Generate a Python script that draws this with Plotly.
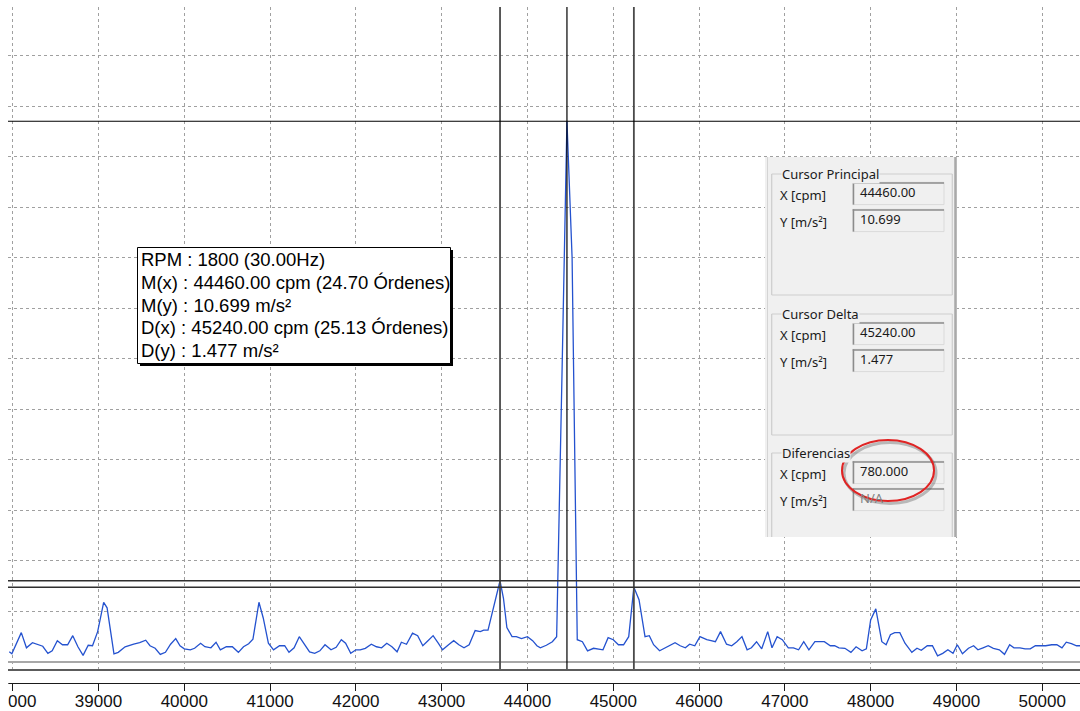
import plotly.graph_objects as go

# Spectrum (cpm vs acceleration amplitude in m/s²)
freq_cpm = [37960, 37990, 38100, 38160, 38230, 38320, 38350, 38410, 38460, 38520,
            38580, 38640, 38700, 38760, 38820, 38880, 38930, 38990, 39060, 39100,
            39180, 39230, 39310, 39410, 39480, 39550, 39600, 39660, 39720, 39780,
            39840, 39900, 39950, 40000, 40070, 40120, 40190, 40240, 40310, 40370,
            40420, 40490, 40560, 40630, 40690, 40750, 40800, 40870, 40920, 40980,
            41040, 41110, 41170, 41220, 41280, 41340, 41400, 41460, 41520, 41580,
            41640, 41710, 41770, 41830, 41880, 41940, 42000, 42050, 42110, 42180,
            42240, 42300, 42360, 42420, 42480, 42530, 42590, 42660, 42720, 42780,
            42840, 42900, 42960, 43010, 43080, 43140, 43200, 43260, 43320, 43390,
            43450, 43490, 43540, 43600, 43680, 43720, 43760, 43820, 43870, 43930,
            44000, 44060, 44110, 44150, 44220, 44290, 44340, 44400, 44460, 44520,
            44580, 44640, 44700, 44770, 44810, 44880, 44940, 45000, 45060, 45120,
            45180, 45240, 45300, 45350, 45370, 45420, 45470, 45540, 45600, 45660,
            45720, 45780, 45840, 45890, 45950, 46010, 46090, 46140, 46190, 46250,
            46320, 46380, 46440, 46500, 46560, 46610, 46670, 46730, 46800, 46850,
            46910, 46970, 47040, 47100, 47160, 47220, 47280, 47350, 47460, 47530,
            47580, 47630, 47700, 47770, 47830, 47900, 47950, 48000, 48060, 48130,
            48180, 48230, 48280, 48340, 48400, 48480, 48540, 48590, 48660, 48720,
            48780, 48840, 48900, 48960, 49010, 49070, 49140, 49200, 49250, 49310,
            49370, 49430, 49500, 49560, 49620, 49670, 49740, 49800, 49860, 49920,
            49970, 50040, 50110, 50170, 50230, 50280, 50340, 50400, 50460]
amp_ms2 = [0.20, 0.16, 0.58, 0.28, 0.38, 0.32, 0.31, 0.17, 0.22, 0.42,
           0.34, 0.34, 0.52, 0.30, 0.13, 0.33, 0.32, 0.60, 1.18, 1.07,
           0.16, 0.19, 0.30, 0.35, 0.38, 0.43, 0.32, 0.27, 0.15, 0.19,
           0.35, 0.46, 0.32, 0.26, 0.24, 0.27, 0.37, 0.30, 0.28, 0.39,
           0.24, 0.30, 0.30, 0.19, 0.30, 0.36, 0.45, 1.18, 0.87, 0.37,
           0.24, 0.32, 0.32, 0.19, 0.28, 0.50, 0.35, 0.20, 0.17, 0.22,
           0.34, 0.24, 0.29, 0.44, 0.37, 0.17, 0.24, 0.24, 0.27, 0.35,
           0.30, 0.28, 0.37, 0.30, 0.20, 0.39, 0.35, 0.57, 0.52, 0.32,
           0.42, 0.52, 0.37, 0.24, 0.34, 0.42, 0.34, 0.28, 0.34, 0.62,
           0.60, 0.63, 0.63, 1.07, 1.606, 1.26, 0.68, 0.50, 0.50, 0.46,
           0.50, 0.42, 0.32, 0.28, 0.33, 0.40, 0.50, 5.5, 10.699, 8.0,
           0.44, 0.40, 0.22, 0.27, 0.26, 0.24, 0.48, 0.44, 0.34, 0.34,
           0.50, 1.477, 1.23, 0.73, 0.50, 0.52, 0.34, 0.22, 0.27, 0.32,
           0.38, 0.32, 0.28, 0.35, 0.32, 0.50, 0.44, 0.42, 0.40, 0.60,
           0.35, 0.32, 0.40, 0.50, 0.24, 0.28, 0.40, 0.26, 0.60, 0.28,
           0.50, 0.44, 0.28, 0.28, 0.24, 0.40, 0.24, 0.40, 0.40, 0.32,
           0.32, 0.28, 0.27, 0.19, 0.30, 0.22, 0.26, 0.83, 1.05, 0.40,
           0.34, 0.54, 0.58, 0.58, 0.37, 0.19, 0.27, 0.23, 0.32, 0.32,
           0.12, 0.17, 0.24, 0.17, 0.34, 0.16, 0.27, 0.32, 0.24, 0.28,
           0.32, 0.27, 0.24, 0.15, 0.34, 0.28, 0.28, 0.26, 0.26, 0.32,
           0.32, 0.32, 0.34, 0.34, 0.28, 0.39, 0.36, 0.32, 0.32]

# Cursor readings
rpm = 1800
main_cursor_cpm = 44460
main_cursor_amp = 10.699
delta_cursor_cpm = 45240
delta_cursor_amp = 1.477
mirror_cursor_cpm = 43680
mirror_cursor_amp = 1.606

tick_values = [38000, 39000, 40000, 41000, 42000, 43000, 44000,
               45000, 46000, 47000, 48000, 49000, 50000]
tick_labels = [str(v) for v in tick_values]

X_RANGE = [37945, 50440]
Y_RANGE = [-0.14, 12.96]

W, H = 1080, 711
ML, MR, MT, MB = 8, 0, 7, 28
PLOT_BOTTOM = 669


def px(x):
    return (x - ML) / (W - ML - MR)


def py(y):
    return (H - MB - y) / (H - MT - MB)


fig = go.Figure()
fig.add_trace(go.Scatter(
    x=freq_cpm, y=amp_ms2, mode="lines",
    line=dict(color="#2452cf", width=1.3),
    hoverinfo="skip", showlegend=False,
))
# same series bound to the labelled frequency axis (kept transparent)
fig.add_trace(go.Scatter(
    x=freq_cpm, y=amp_ms2, mode="lines", xaxis="x2", yaxis="y",
    line=dict(color="rgba(0,0,0,0)", width=0),
    hoverinfo="skip", showlegend=False,
))

shapes = []
annotations = []

# cursor lines
for xc, col, wd in [(mirror_cursor_cpm, "#4a4a4a", 1.8),
                    (main_cursor_cpm, "#000000", 1.2),
                    (delta_cursor_cpm, "#4a4a4a", 1.8)]:
    shapes.append(dict(type="line", xref="x", yref="y domain", x0=xc, x1=xc,
                       y0=0, y1=1, line=dict(color=col, width=wd), layer="above"))
for yc, col, wd in [(main_cursor_amp, "#000000", 1.2),
                    (mirror_cursor_amp, "#303030", 1.4),
                    (delta_cursor_amp, "#303030", 1.4)]:
    shapes.append(dict(type="line", xref="x domain", yref="y", x0=0, x1=1,
                       y0=yc, y1=yc, line=dict(color=col, width=wd), layer="above"))

# hide the part of the first tick label that runs past the left edge
shapes.append(dict(type="rect", xref="paper", yref="paper", x0=px(-20), x1=px(8.3),
                   y0=py(711), y1=py(676), fillcolor="white", line=dict(width=0),
                   layer="above"))

# info box: shadow, frame, then one line of text per reading
shapes.append(dict(type="rect", xref="paper", yref="paper",
                   x0=px(140), x1=px(453), y0=py(366), y1=py(250),
                   fillcolor="black", line=dict(width=0), layer="above"))
shapes.append(dict(type="rect", xref="paper", yref="paper",
                   x0=px(137.5), x1=px(450.5), y0=py(363.5), y1=py(247.5),
                   fillcolor="white", line=dict(color="black", width=1), layer="above"))

info_lines = [
    f"RPM : {rpm} ({rpm / 60:.2f}Hz)",
    f"M(x) : {main_cursor_cpm:.2f} cpm ({main_cursor_cpm / rpm:.2f} Órdenes)",
    f"M(y) : {main_cursor_amp:.3f} m/s²",
    f"D(x) : {delta_cursor_cpm:.2f} cpm ({delta_cursor_cpm / rpm:.2f} Órdenes)",
    f"D(y) : {delta_cursor_amp:.3f} m/s²",
]
for i, line in enumerate(info_lines):
    annotations.append(dict(
        xref="paper", yref="paper", x=px(139.5), y=py(259.5 + i * 22.75),
        xanchor="left", yanchor="middle", text=line, showarrow=False,
        borderpad=0, font=dict(family="Liberation Sans, Arial", size=18.5, color="black"),
    ))

# side panel
PANEL_BG = "#f0f0f0"
shapes.append(dict(type="rect", xref="paper", yref="paper",
                   x0=px(765), x1=px(957), y0=py(537), y1=py(157),
                   fillcolor=PANEL_BG, line=dict(width=0), layer="above"))
shapes.append(dict(type="line", xref="paper", yref="paper",
                   x0=px(955.5), x1=px(955.5), y0=py(537), y1=py(157),
                   line=dict(color="#a9a9a9", width=2.5), layer="above"))
shapes.append(dict(type="line", xref="paper", yref="paper",
                   x0=px(767.5), x1=px(767.5), y0=py(537), y1=py(157),
                   line=dict(color="#d4d4d4", width=1), layer="above"))

panel_font = dict(family="Noto Sans, Open Sans", size=13, color="#1a1a1a")
value_font = dict(family="Noto Sans, Open Sans", size=13, color="#1a1a1a")

diff_cpm = delta_cursor_cpm - main_cursor_cpm
groups = [
    ("Cursor Principal", 174, 295, f"{main_cursor_cpm:.2f}", f"{main_cursor_amp:.3f}", False),
    ("Cursor Delta", 314, 435, f"{delta_cursor_cpm:.2f}", f"{delta_cursor_amp:.3f}", False),
    ("Diferencias", 453, None, f"{diff_cpm:.3f}", "N/A", True),
]
GL, GR = 771.7, 952.3
for title, gtop, gbot, xval, yval, yval_disabled in groups:
    edge = dict(color="#cdcdcd", width=1.2)
    bottom = gbot if gbot is not None else 537
    shapes.append(dict(type="line", xref="paper", yref="paper", x0=px(GL), x1=px(GR),
                       y0=py(gtop), y1=py(gtop), line=edge, layer="above"))
    shapes.append(dict(type="line", xref="paper", yref="paper", x0=px(GL), x1=px(GL),
                       y0=py(gtop), y1=py(bottom), line=edge, layer="above"))
    shapes.append(dict(type="line", xref="paper", yref="paper", x0=px(GR), x1=px(GR),
                       y0=py(gtop), y1=py(bottom), line=edge, layer="above"))
    if gbot is not None:
        shapes.append(dict(type="line", xref="paper", yref="paper", x0=px(GL), x1=px(GR),
                           y0=py(gbot), y1=py(gbot), line=edge, layer="above"))
    annotations.append(dict(xref="paper", yref="paper", x=px(781), y=py(gtop),
                            xanchor="left", yanchor="middle", text=title, showarrow=False,
                            bgcolor=PANEL_BG, borderpad=0, font=panel_font))
    for row, (lab, val) in enumerate([("X [cpm]", xval), ("Y [m/s²]", yval)]):
        top = gtop + 8.3 + row * 27.0
        bot = top + 22.3
        mid = (top + bot) / 2
        shapes.append(dict(type="rect", xref="paper", yref="paper",
                           x0=px(852.7), x1=px(944), y0=py(bot), y1=py(top),
                           fillcolor=PANEL_BG, line=dict(color="#dadada", width=1),
                           layer="above"))
        shapes.append(dict(type="line", xref="paper", yref="paper",
                           x0=px(852.7), x1=px(944), y0=py(top + 0.8), y1=py(top + 0.8),
                           line=dict(color="#8c8c8c", width=1.5), layer="above"))
        shapes.append(dict(type="line", xref="paper", yref="paper",
                           x0=px(853.5), x1=px(853.5), y0=py(bot), y1=py(top),
                           line=dict(color="#8c8c8c", width=1.5), layer="above"))
        annotations.append(dict(xref="paper", yref="paper", x=px(777.5), y=py(mid + 1.5),
                                xanchor="left", yanchor="middle", text=lab,
                                showarrow=False, font=panel_font))
        vfont = dict(value_font)
        if row == 1 and yval_disabled:
            vfont["color"] = "#808080"
        annotations.append(dict(xref="paper", yref="paper", x=px(858), y=py(mid - 1),
                                xanchor="left", yanchor="middle", text=val,
                                showarrow=False, font=vfont))

# highlight ring around the difference value
shapes.append(dict(type="circle", xref="paper", yref="paper",
                   x0=px(844), x1=px(936), y0=py(503.5), y1=py(442.5),
                   line=dict(color="rgba(80,80,80,0.35)", width=3), layer="above"))
shapes.append(dict(type="circle", xref="paper", yref="paper",
                   x0=px(842), x1=px(934), y0=py(501), y1=py(440),
                   line=dict(color="#e02424", width=2), layer="above"))

grid_style = dict(showgrid=True, griddash="dot", gridcolor="#a0a0a0", gridwidth=1)

fig.update_layout(
    width=W, height=H, autosize=False,
    margin=dict(l=ML, r=MR, t=MT, b=MB, pad=0, autoexpand=False),
    paper_bgcolor="white", plot_bgcolor="white",
    showlegend=False,
    xaxis=dict(
        range=X_RANGE, anchor="y", tick0=0, dtick=1000, showticklabels=False,
        ticks="", showline=True, linecolor="#5c5c5c", linewidth=2, zeroline=False,
        automargin=False, **grid_style,
    ),
    xaxis2=dict(
        range=X_RANGE, overlaying="x", anchor="free", position=0, side="bottom",
        tickmode="array", tickvals=tick_values, ticktext=tick_labels,
        ticks="outside", ticklen=7, tickwidth=1, tickcolor="#1a1a1a",
        showline=True, linecolor="#1a1a1a", linewidth=1, showgrid=False,
        zeroline=False, ticklabeloverflow="allow", automargin=False,
        ticklabelstandoff=-4,
        tickfont=dict(family="Liberation Sans, Arial", size=17, color="#111111"),
    ),
    yaxis=dict(
        range=Y_RANGE, anchor="x", domain=[(H - MB - PLOT_BOTTOM) / (H - MT - MB), 1],
        tick0=0, dtick=1, showticklabels=False, ticks="", showline=False,
        zeroline=True, zerolinecolor="#a8a8a8", zerolinewidth=2,
        automargin=False, **grid_style,
    ),
    shapes=shapes,
    annotations=annotations,
)

fig.write_html("out.html")
